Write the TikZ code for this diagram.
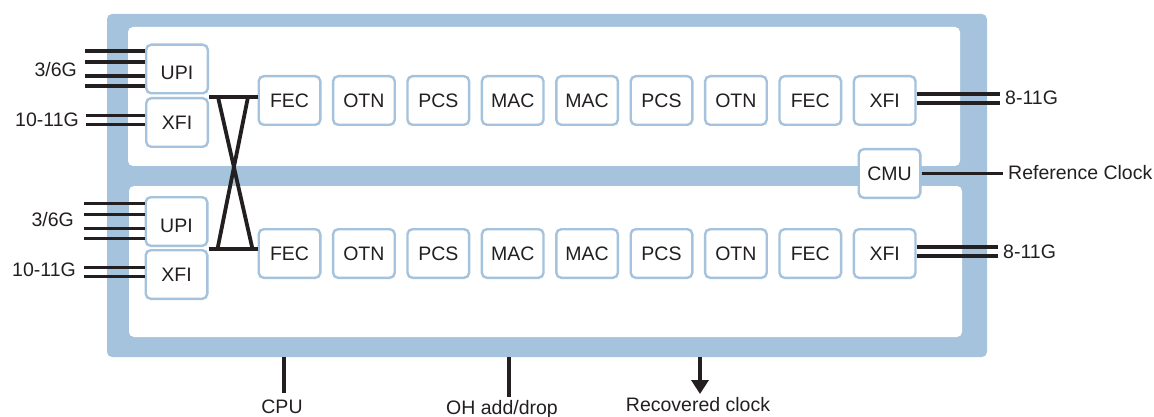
\documentclass[tikz,border=0pt]{standalone}
\usepackage{fontspec}
\setmainfont{Liberation Sans}
\usetikzlibrary{calc,arrows.meta}
\definecolor{chipblue}{RGB}{165,195,220}
\definecolor{ink}{RGB}{35,31,32}

\begin{document}
\begin{tikzpicture}[x=1pt,y=-1pt,
    txt/.style={font=\fontsize{19.5}{23}\selectfont,text=ink,inner sep=0pt},
    blk/.style={txt,draw=chipblue,line width=2.4pt,fill=white,rounded corners=5pt,
      minimum width=61.6pt,minimum height=48.6pt},
    bus/.style={draw=ink,line width=3.8pt}]
  \useasboundingbox (0,0) rectangle (1154,417);
  % chip body and the two lanes
  \node[fill=chipblue,rounded corners=5pt,minimum width=880pt,minimum height=343pt,inner sep=0pt] (chip) at (547,185.5) {};
  \fill[white,rounded corners=5pt] (128,27) rectangle (960,166);
  \fill[white,rounded corners=5pt] (129,186) rectangle (962,337);
  % client interfaces
  \node[blk,text height=21.6pt] (upiT) at (177,69) {UPI};
  \node[blk] (xfiT) at (177,122.5) {XFI};
  \node[blk,text height=21.6pt] (upiB) at (176.5,221.5) {UPI};
  \node[blk] (xfiB) at (176.5,274.5) {XFI};
  % line side chains
  \foreach \name [count=\i] in {FEC,OTN,PCS,MAC,MAC,PCS,OTN,FEC,XFI} {
    \pgfmathsetmacro\cx{289.5+74.4*(\i-1)}
    \node[blk] (t\i) at (\cx,100.5) {\name};
    \node[blk] (b\i) at (\cx,253.5) {\name};
  }
  \node[blk] (cmu) at (889.5,173.5) {CMU};
  % client buses
  \foreach \dy in {-18,-7,7,17} {
    \draw[bus] ($(upiT.west)+(0,\dy)$) -- ++(-60,0);
    \draw[bus] ($(upiB.west)+(0,\dy)$) -- ++(-61,0);
  }
  \foreach \dy in {-7,2} {
    \draw[bus] ($(xfiT.west)+(0,\dy)$) -- ++(-59,0);
    \draw[bus] ($(xfiB.west)+(0,\dy)$) -- ++(-61,0);
  }
  \node[txt,anchor=east] (rateUT) at (77,70) {3/6G};
  \node[txt,anchor=east] (rateXT) at (79,120) {10-11G};
  \node[txt,anchor=east] (rateUB) at (74,220) {3/6G};
  \node[txt,anchor=east] (rateXB) at (76,270) {10-11G};
  % cross connect
  \draw[bus] (xfiT.north east) -- (t1.west |- xfiT.north east);
  \draw[bus] (xfiB.north east) -- (b1.west |- xfiB.north east);
  \draw[bus] ($(xfiT.north east)+(9,0)$) -- ($(xfiB.north east)+(44,0)$);
  \draw[bus] ($(xfiT.north east)+(39,0)$) -- ($(xfiB.north east)+(9,0)$);
  % line outputs
  \foreach \dy in {-6.5,2.5} {
    \draw[bus] ($(t9.east)+(0,\dy)$) -- ++(83,0);
    \draw[bus] ($(b9.east)+(0,\dy)$) -- ++(81,0);
  }
  \node[txt,anchor=west] (lineT) at (1005,98) {8-11G};
  \node[txt,anchor=west] (lineB) at (1003,252) {8-11G};
  \draw[bus] (cmu.east) -- ++(81,0) coordinate (refclk);
  \node[txt,anchor=west] (refL) at (1008,173) {Reference Clock};
  % management and clock pins
  \coordinate (cpu) at (284,393);
  \coordinate (oh) at (509,397);
  \coordinate (rclk) at (700,394);
  \draw[bus] (cpu |- chip.south) -- (cpu);
  \draw[bus] (oh |- chip.south) -- (oh);
  \draw[bus,-{Triangle[width=17pt 0,length=14pt 0]}] (rclk |- chip.south) -- (rclk);
  \node[txt,anchor=base] (cpuL) at (282,413) {CPU};
  \node[txt,anchor=base] (ohL) at (502,414) {OH add/drop};
  \node[txt,anchor=base] (rclkL) at (698,411) {Recovered clock};
\end{tikzpicture}
\end{document}
